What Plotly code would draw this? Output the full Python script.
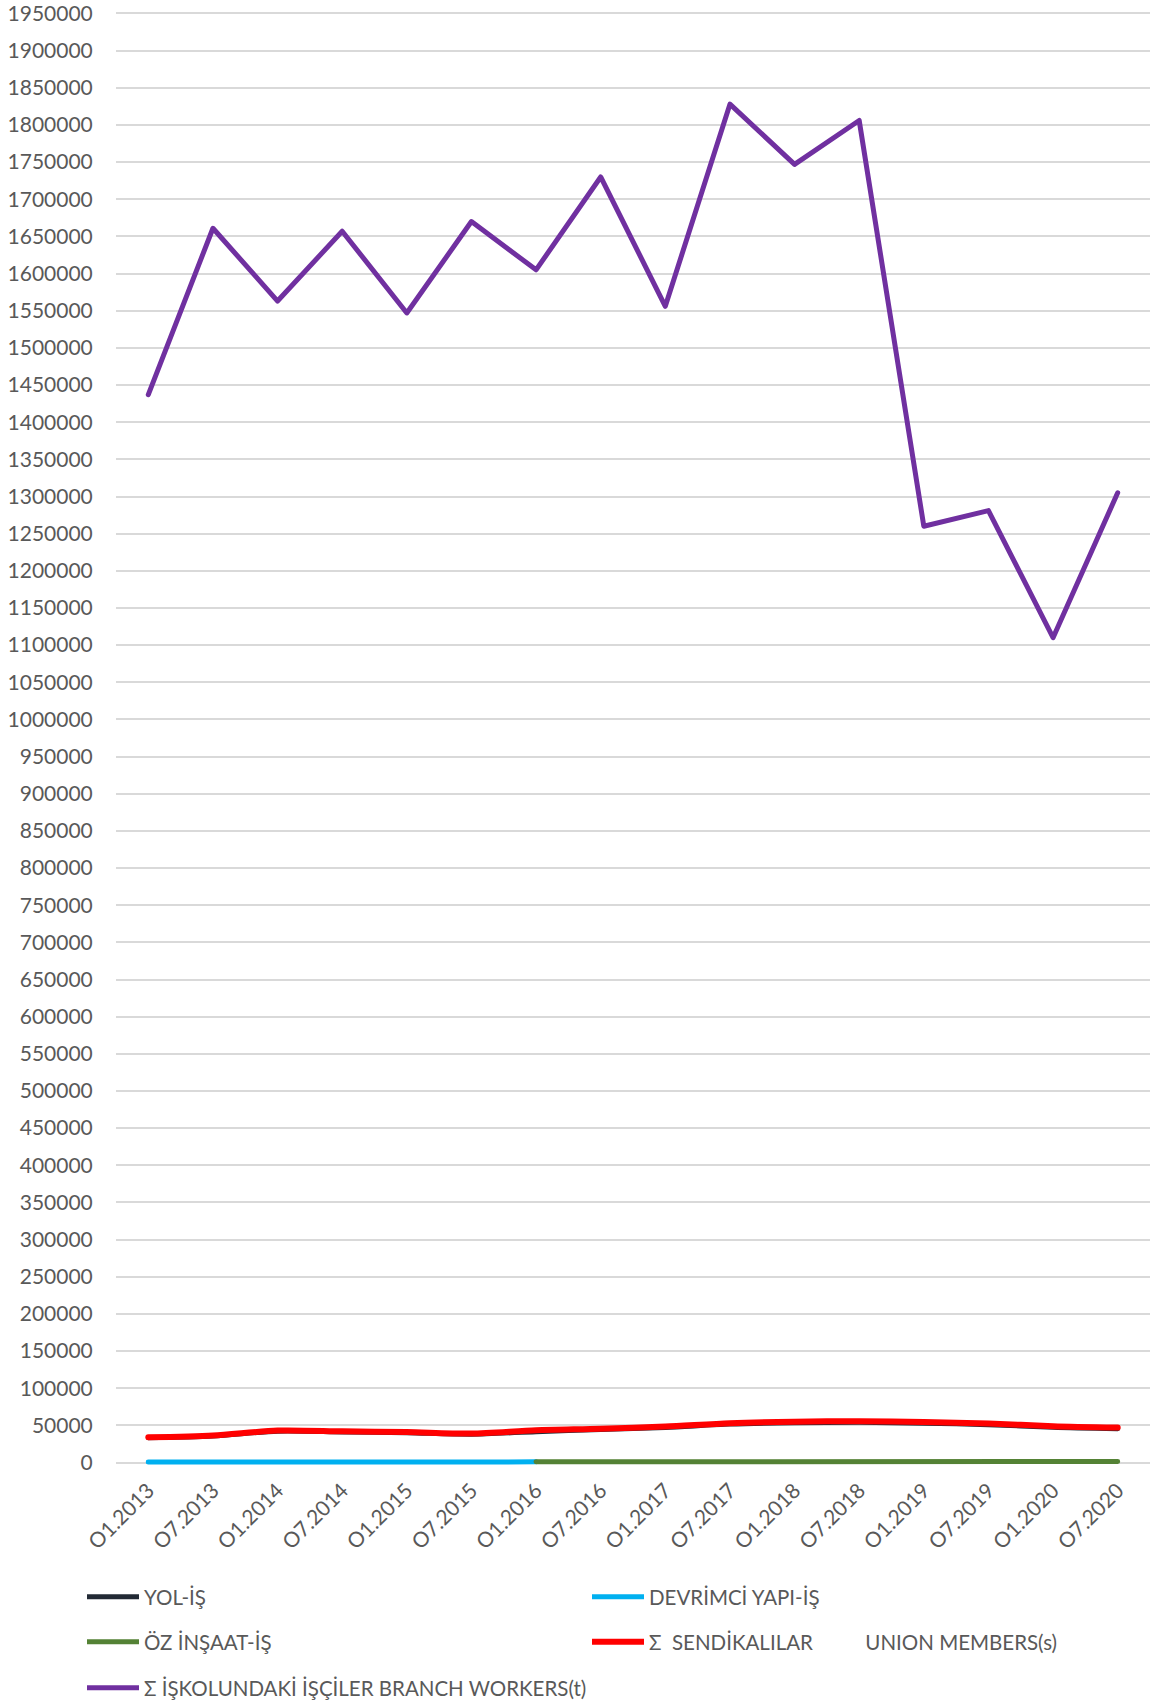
import plotly.graph_objects as go

periods = ["O1.2013", "O7.2013", "O1.2014", "O7.2014", "O1.2015", "O7.2015", "O1.2016", "O7.2016",
           "O1.2017", "O7.2017", "O1.2018", "O7.2018", "O1.2019", "O7.2019", "O1.2020", "O7.2020"]

branch_workers = [1437000, 1661000, 1563000, 1657000, 1547000, 1670000, 1605000, 1730000,
                  1556000, 1828000, 1747000, 1806000, 1260000, 1281000, 1110000, 1305000]

union_members = [34000, 36500, 43000, 42000, 41000, 39000, 43500, 45500,
                 48500, 53000, 55000, 55500, 54500, 52500, 49000, 47000]

devrimci = [700, 750, 800, 800, 850, 850, 900, None, None, None, None, None, None, None, None, None]

oz_insaat = [None, None, None, None, None, None, 1000, 1100, 1200, 1300, 1400, 1400, 1500, 1500, 1500, 1500]

yol_is = [u - (d or 0) - (o or 0) for u, d, o in zip(union_members, devrimci, oz_insaat)]

names = ["YOL-İŞ", "DEVRİMCİ YAPI-İŞ", "ÖZ İNŞAAT-İŞ",
         "Σ  SENDİKALILAR" + "\u00a0" * 10 + "UNION MEMBERS(s)",
         "Σ İŞKOLUNDAKİ İŞÇİLER BRANCH WORKERS(t)"]
colors = ["#222a35", "#00b0f0", "#548235", "#ff0000", "#7030a0"]
series = [yol_is, devrimci, oz_insaat, union_members, branch_workers]
shapes = ["spline", "linear", "linear", "spline", "linear"]
widths = [5, 5, 5, 6, 5]

# legend placement (container px): (x of line start, y of row centre)
leg_pos = [(87, 1597), (592, 1597), (87, 1642), (592, 1642), (87, 1688)]

W, H = 1150, 1702
fig = go.Figure()
layout_legends = {}
for i, (nm, col, ys, sh, lw) in enumerate(zip(names, colors, series, shapes, widths)):
    key = "legend" if i == 0 else f"legend{i+1}"
    fig.add_trace(go.Scatter(
        x=periods, y=ys, name=nm, mode="lines",
        line=dict(color=col, width=lw, shape=sh, smoothing=0.8 if sh == "spline" else None),
        legend=key, hoverinfo="x+y+name",
    ))
    lx, ly = leg_pos[i]
    layout_legends[key] = dict(
        x=(lx - 5) / W, y=1 - ly / H, xref="container", yref="container",
        xanchor="left", yanchor="middle", orientation="h",
        font=dict(family="Lato", size=20.5, color="#595959"),
        bgcolor="rgba(0,0,0,0)", borderwidth=0, itemwidth=52,
    )

fig.update_layout(
    width=W, height=H,
    margin=dict(l=116, r=0, t=10, b=235),
    paper_bgcolor="white", plot_bgcolor="white",
    font=dict(family="Lato", size=21, color="#595959"),
    showlegend=True,
    **layout_legends,
)
fig.update_xaxes(
    type="category", range=[-0.5, 15.5], tickangle=-45,
    showgrid=False, showline=False, zeroline=False,
    ticks="outside", ticklen=2, tickcolor="rgba(0,0,0,0)",
    tickfont=dict(family="Lato", size=21, color="#595959"),
)
fig.update_yaxes(
    range=[-6000, 1952000], dtick=50000, tick0=0, tickformat="d",
    showgrid=True, gridcolor="#d9d9d9", gridwidth=1.5,
    zeroline=False, showline=False, ticklabeloverflow="allow",
    ticks="outside", ticklen=18, tickcolor="rgba(0,0,0,0)",
    tickfont=dict(family="Lato", size=21, color="#595959"),
)

fig.write_html("out.html", config={"displayModeBar": False},
               post_script="document.body.style.margin='0';document.body.style.overflow='hidden';"
                           "document.querySelectorAll('.scatterlayer path.js-line').forEach(function(p){p.style.strokeLinecap='round';p.style.strokeLinejoin='round';});")
